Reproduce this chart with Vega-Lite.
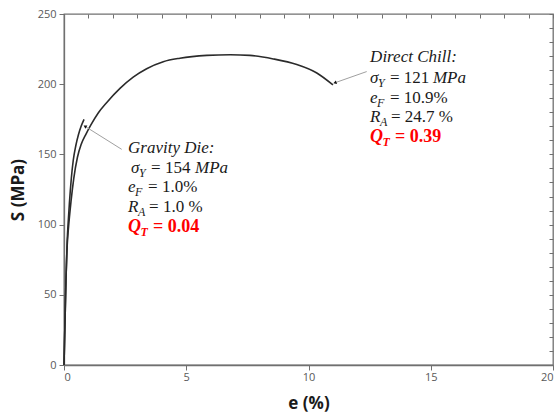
{
  "$schema": "https://vega.github.io/schema/vega-lite/v6.json",
  "autosize": "none",
  "width": 489,
  "height": 351,
  "padding": {"left": 64, "top": 14, "right": 7, "bottom": 52},
  "background": "white",
  "config": {
    "view": {"stroke": "#707070", "strokeWidth": 1.3},
    "axis": {"grid": false, "domainColor": "#707070", "domainWidth": 1.3, "tickColor": "#707070", "tickWidth": 1, "labelFont": "Open Sans", "labelFontSize": 11, "labelColor": "#595959", "titleFont": "Open Sans", "titleFontSize": 17, "titleFontWeight": "bold", "titleColor": "#1a1a1a"},
    "text": {"font": "Liberation Serif", "fontSize": 17, "align": "left", "baseline": "alphabetic", "color": "#1a1a1a"}
  },
  "datasets": {
    "curves": [
      {"series": "Gravity Die", "e": 0, "S": 0},
      {"series": "Gravity Die", "e": 0.04, "S": 30},
      {"series": "Gravity Die", "e": 0.08, "S": 60},
      {"series": "Gravity Die", "e": 0.13, "S": 88},
      {"series": "Gravity Die", "e": 0.18, "S": 104},
      {"series": "Gravity Die", "e": 0.22, "S": 115},
      {"series": "Gravity Die", "e": 0.30, "S": 133},
      {"series": "Gravity Die", "e": 0.38, "S": 146},
      {"series": "Gravity Die", "e": 0.48, "S": 156},
      {"series": "Gravity Die", "e": 0.59, "S": 164},
      {"series": "Gravity Die", "e": 0.70, "S": 170},
      {"series": "Gravity Die", "e": 0.82, "S": 175},
      {"series": "Direct Chill", "e": 0, "S": 0},
      {"series": "Direct Chill", "e": 0.04, "S": 30},
      {"series": "Direct Chill", "e": 0.08, "S": 60},
      {"series": "Direct Chill", "e": 0.13, "S": 85},
      {"series": "Direct Chill", "e": 0.18, "S": 97},
      {"series": "Direct Chill", "e": 0.29, "S": 117},
      {"series": "Direct Chill", "e": 0.40, "S": 133},
      {"series": "Direct Chill", "e": 0.55, "S": 148},
      {"series": "Direct Chill", "e": 0.70, "S": 157},
      {"series": "Direct Chill", "e": 0.90, "S": 164.5},
      {"series": "Direct Chill", "e": 1.10, "S": 171},
      {"series": "Direct Chill", "e": 1.40, "S": 179.5},
      {"series": "Direct Chill", "e": 1.75, "S": 187},
      {"series": "Direct Chill", "e": 2.29, "S": 197},
      {"series": "Direct Chill", "e": 2.83, "S": 205},
      {"series": "Direct Chill", "e": 3.38, "S": 211},
      {"series": "Direct Chill", "e": 4.06, "S": 216},
      {"series": "Direct Chill", "e": 4.74, "S": 218.5},
      {"series": "Direct Chill", "e": 5.84, "S": 220.5},
      {"series": "Direct Chill", "e": 6.8, "S": 221},
      {"series": "Direct Chill", "e": 7.6, "S": 220.5},
      {"series": "Direct Chill", "e": 8.56, "S": 218},
      {"series": "Direct Chill", "e": 9.52, "S": 214},
      {"series": "Direct Chill", "e": 10.34, "S": 208},
      {"series": "Direct Chill", "e": 11.0, "S": 199.5}
    ],
    "minorX": [
      {"e": 0}, {"e": 1}, {"e": 2}, {"e": 3}, {"e": 4}, {"e": 5}, {"e": 6}, {"e": 7}, {"e": 8}, {"e": 9}, {"e": 10},
      {"e": 11}, {"e": 12}, {"e": 13}, {"e": 14}, {"e": 15}, {"e": 16}, {"e": 17}, {"e": 18}, {"e": 19}, {"e": 20}
    ],
    "arrows": [
      {"series": "Gravity Die", "e": 2.36, "S": 153.6, "e2": 0.86, "S2": 170, "angle": 302},
      {"series": "Direct Chill", "e": 12.38, "S": 209, "e2": 11.08, "S2": 201, "angle": 251}
    ],
    "italic": [
      {"t": "Direct Chill:", "e": 12.52, "S": 215.8},
      {"t": "σ", "e": 12.52, "S": 200.9},
      {"t": "MPa", "e": 15.09, "S": 200.9},
      {"t": "e", "e": 12.52, "S": 186.6},
      {"t": "R", "e": 12.52, "S": 173.1},
      {"t": "Gravity Die:", "e": 2.62, "S": 151.0},
      {"t": "σ", "e": 2.74, "S": 136.8},
      {"t": "MPa", "e": 5.36, "S": 136.8},
      {"t": "e", "e": 2.62, "S": 123.2},
      {"t": "R", "e": 2.62, "S": 109.0}
    ],
    "upright": [
      {"t": "= 121", "e": 13.33, "S": 200.9},
      {"t": "= 10.9%", "e": 13.33, "S": 186.6},
      {"t": "= 24.7 %", "e": 13.37, "S": 173.1},
      {"t": "= 154", "e": 3.56, "S": 136.8},
      {"t": "= 1.0%", "e": 3.44, "S": 123.2},
      {"t": "= 1.0 %", "e": 3.48, "S": 109.0}
    ],
    "subs": [
      {"t": "Y", "e": 12.84, "S": 198.0},
      {"t": "F", "e": 12.80, "S": 183.8},
      {"t": "A", "e": 12.92, "S": 170.2},
      {"t": "Y", "e": 3.07, "S": 133.9},
      {"t": "F", "e": 2.90, "S": 120.4},
      {"t": "A", "e": 3.03, "S": 106.1}
    ],
    "qSymbol": [
      {"t": "Q", "e": 12.52, "S": 158.8},
      {"t": "Q", "e": 2.62, "S": 94.7}
    ],
    "qSub": [
      {"t": "T", "e": 13.03, "S": 156.0},
      {"t": "T", "e": 3.13, "S": 91.9}
    ],
    "qValue": [
      {"t": "= 0.39", "e": 13.54, "S": 158.8},
      {"t": "= 0.04", "e": 3.64, "S": 94.7}
    ]
  },
  "encoding": {
    "x": {"field": "e", "type": "quantitative", "scale": {"domain": [0, 20], "nice": false}, "axis": null},
    "y": {"field": "S", "type": "quantitative", "scale": {"domain": [0, 250], "nice": false}, "axis": null}
  },
  "layer": [
    {
      "data": {"name": "curves"},
      "mark": {"type": "line", "interpolate": "monotone", "color": "#2b2b2b", "strokeWidth": 1.6},
      "encoding": {
        "x": {"field": "e", "type": "quantitative", "scale": {"domain": [0, 20], "nice": false},
              "axis": {"title": "e (%)", "values": [0, 5, 10, 15, 20], "tickSize": 5, "labelPadding": 1, "titlePadding": 13}},
        "y": {"field": "S", "type": "quantitative", "scale": {"domain": [0, 250], "nice": false},
              "axis": {"title": "S (MPa)", "values": [0, 50, 100, 150, 200, 250], "tickSize": 5, "labelPadding": 3, "titlePadding": 10}},
        "detail": {"field": "series"}
      }
    },
    {
      "data": {"name": "minorX"},
      "mark": {"type": "point", "opacity": 0},
      "encoding": {
        "x": {"field": "e", "type": "quantitative", "scale": {"domain": [0, 20], "nice": false},
              "axis": {"title": null, "labels": false, "domain": false, "values": [0,1,2,3,4,5,6,7,8,9,10,11,12,13,14,15,16,17,18,19,20], "tickSize": -4}},
        "y": {"datum": 0, "type": "quantitative", "scale": {"domain": [0, 250], "nice": false},
              "axis": {"title": null, "labels": false, "domain": false, "values": [0,10,20,30,40,50,60,70,80,90,100,110,120,130,140,150,160,170,180,190,200,210,220,230,240,250], "tickSize": -4}}
      }
    },
    {
      "data": {"name": "arrows"},
      "mark": {"type": "rule", "color": "#a0a0a0", "strokeWidth": 1},
      "encoding": {
        "x2": {"field": "e2"},
        "y2": {"field": "S2"}
      }
    },
    {
      "data": {"name": "arrows"},
      "mark": {"type": "point", "shape": "triangle-up", "filled": true, "color": "#111111", "size": 14, "opacity": 1},
      "encoding": {
        "x": {"field": "e2", "type": "quantitative", "scale": {"domain": [0, 20], "nice": false}, "axis": null},
        "y": {"field": "S2", "type": "quantitative", "scale": {"domain": [0, 250], "nice": false}, "axis": null},
        "angle": {"field": "angle", "type": "quantitative", "scale": null}
      }
    },
    {
      "data": {"name": "italic"},
      "mark": {"type": "text", "fontStyle": "italic"},
      "encoding": {"text": {"field": "t"}}
    },
    {
      "data": {"name": "upright"},
      "mark": {"type": "text"},
      "encoding": {"text": {"field": "t"}}
    },
    {
      "data": {"name": "subs"},
      "mark": {"type": "text", "fontStyle": "italic", "fontSize": 12},
      "encoding": {"text": {"field": "t"}}
    },
    {
      "data": {"name": "qSymbol"},
      "mark": {"type": "text", "fontStyle": "italic", "fontWeight": "bold", "fontSize": 18, "color": "#ff0000"},
      "encoding": {"text": {"field": "t"}}
    },
    {
      "data": {"name": "qSub"},
      "mark": {"type": "text", "fontStyle": "italic", "fontWeight": "bold", "fontSize": 12, "color": "#ff0000"},
      "encoding": {"text": {"field": "t"}}
    },
    {
      "data": {"name": "qValue"},
      "mark": {"type": "text", "fontWeight": "bold", "fontSize": 18, "color": "#ff0000"},
      "encoding": {"text": {"field": "t"}}
    }
  ],
  "resolve": {"axis": {"x": "independent", "y": "independent"}}
}
